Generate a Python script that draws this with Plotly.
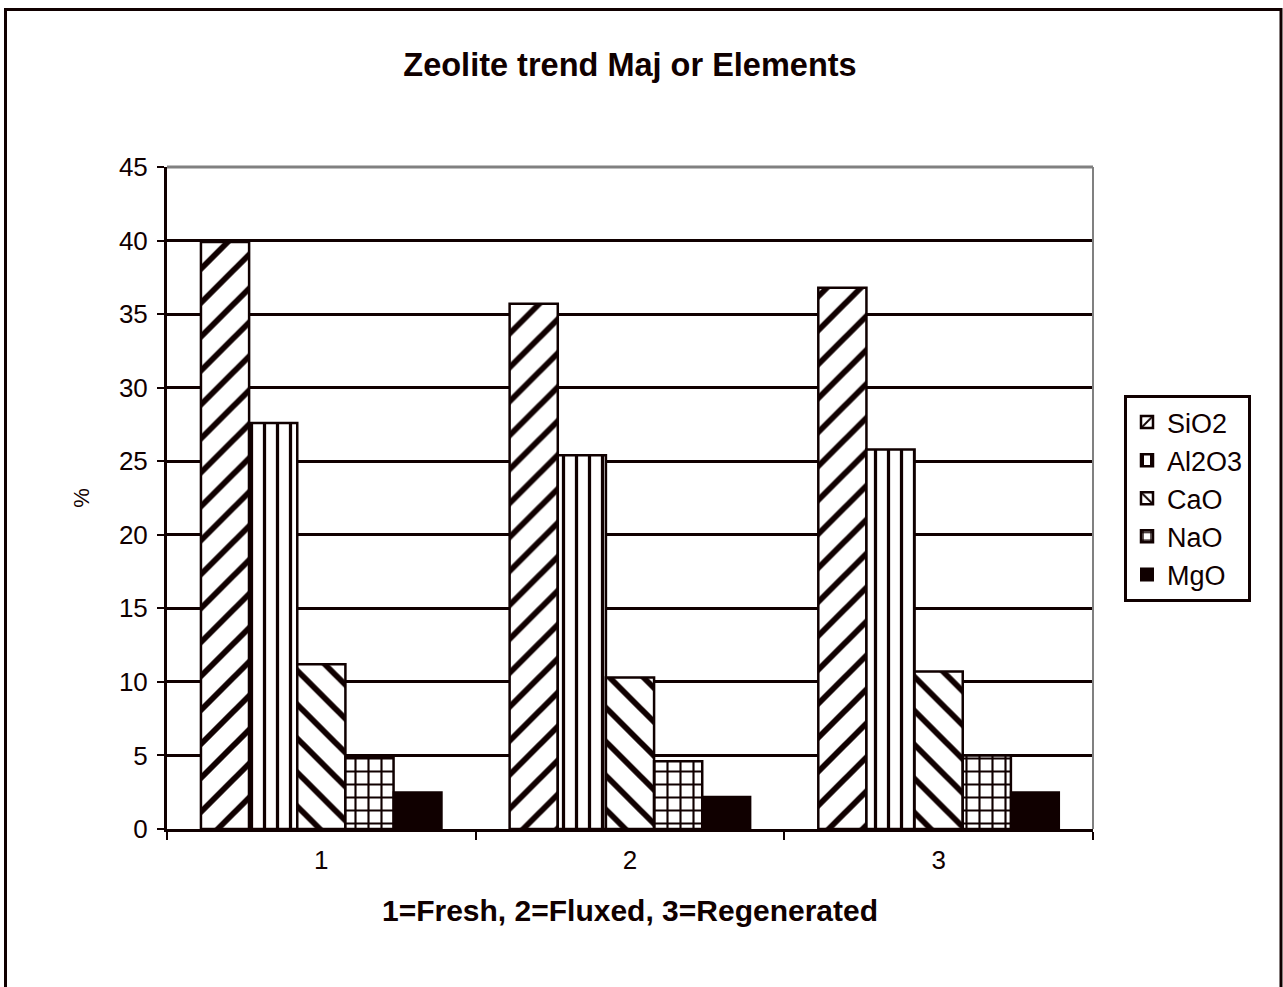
import plotly.graph_objects as go

categories = ["1", "2", "3"]
series_names = ["SiO2", "Al2O3", "CaO", "NaO", "MgO"]
sio2 = [39.9, 35.7, 36.8]
al2o3 = [27.6, 25.4, 25.8]
cao = [11.2, 10.3, 10.7]
nao = [4.9, 4.6, 5.0]
mgo = [2.5, 2.2, 2.5]
y_ticks = [0, 5, 10, 15, 20, 25, 30, 35, 40, 45]

INK = "#100000"
FONT = "Liberation Sans, Arial, sans-serif"

W, H = 1283, 987

fig = go.Figure()

styles = [
    dict(shape="/", size=24, solidity=0.24),
    dict(shape="|", size=13, solidity=0.25),
    dict(shape="\\", size=24, solidity=0.24),
    dict(shape="+", size=13, solidity=0.3),
    None,
]
values = [sio2, al2o3, cao, nao, mgo]

for name, vals, st in zip(series_names, values, styles):
    if st is None:
        marker = dict(color=INK, line=dict(color=INK, width=2))
    else:
        marker = dict(
            color="white",
            line=dict(color=INK, width=2.5),
            pattern=dict(shape=st["shape"], size=st["size"], solidity=st["solidity"],
                         fgcolor=INK, bgcolor="white", fillmode="replace"),
        )
    fig.add_trace(go.Bar(x=categories, y=vals, name=name, marker=marker))

# plot-area pixel geometry on the page: x 167..1093, y 167..829
L, T, PW, PH = 167, 167, 926, 662

def px_x(p):
    return (p - L) / PW

def px_y(p):
    return (T + PH - p) / PH

fig.update_layout(
    width=W,
    height=H,
    margin=dict(l=L, r=W - L - PW, t=T, b=H - T - PH, autoexpand=False),
    paper_bgcolor="white",
    plot_bgcolor="white",
    barmode="group",
    bargap=0.22,
    bargroupgap=0,
    font=dict(family=FONT, color=INK, size=26),
    title=dict(
        text="<b>Zeolite trend Maj or Elements</b>",
        x=0.5, xref="paper", xanchor="center",
        y=1 - 65 / H, yref="container", yanchor="middle",
        font=dict(family=FONT, size=32.5, color=INK),
    ),
    legend=dict(
        x=px_x(1124), y=px_y(395), xanchor="left", yanchor="top",
        bordercolor=INK, borderwidth=3, bgcolor="white",
        font=dict(family=FONT, size=27, color=INK),
        itemwidth=30, traceorder="normal",
    ),
    xaxis=dict(
        type="category",
        showline=True, linecolor=INK, linewidth=3,
        ticks="outside", tickson="boundaries", ticklen=8, tickwidth=2, tickcolor=INK,
        showgrid=False,
        ticklabelstandoff=6,
        tickfont=dict(family=FONT, size=26, color=INK),
        title=dict(text="<b>1=Fresh, 2=Fluxed, 3=Regenerated</b>",
                   font=dict(family=FONT, size=30, color=INK), standoff=26),
    ),
    yaxis=dict(
        range=[0, 45], tickvals=y_ticks,
        showline=True, linecolor=INK, linewidth=3,
        ticks="outside", ticklen=7, tickwidth=2, tickcolor=INK,
        showgrid=True, gridcolor=INK, gridwidth=3,
        zeroline=False,
        ticklabelstandoff=4,
        tickfont=dict(family=FONT, size=26, color=INK),
        title=dict(text="%", font=dict(family=FONT, size=22, color=INK), standoff=24),
    ),
    shapes=[
        dict(type="line", xref="paper", yref="paper", x0=0, x1=1, y0=1, y1=1,
             line=dict(color="#808080", width=3), layer="above"),
        dict(type="line", xref="paper", yref="paper", x0=1, x1=1, y0=0, y1=1,
             line=dict(color="#808080", width=2), layer="above"),
        dict(type="rect", xref="paper", yref="paper",
             x0=px_x(5.5), x1=px_x(1281), y0=px_y(1000), y1=px_y(9.5),
             line=dict(color=INK, width=3), fillcolor="rgba(0,0,0,0)", layer="above"),
    ],
)

fig.write_html(
    "out.html",
    config={"displayModeBar": False},
    post_script="document.body.style.margin='0';document.body.style.overflow='hidden';",
)
